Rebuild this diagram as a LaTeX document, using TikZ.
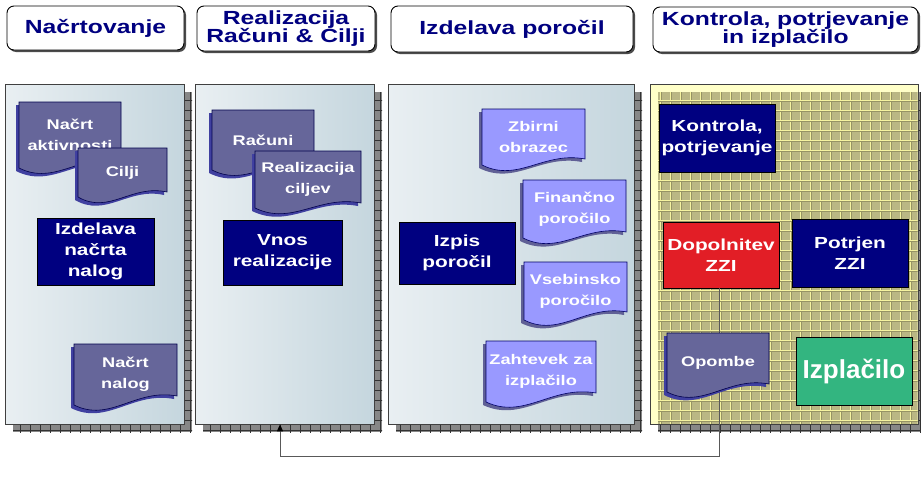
\documentclass[tikz,border=0pt]{standalone}
\usepackage{fontspec}
\setmainfont{Liberation Sans}[FakeStretch=1.3]
\newfontfamily\plainsans{Liberation Sans}
\usetikzlibrary{arrows.meta,shadows}
\definecolor{navy}{RGB}{0,0,128}
\definecolor{docpurple}{RGB}{102,102,154}
\definecolor{doclight}{RGB}{153,153,255}
\definecolor{zzired}{RGB}{226,30,38}
\definecolor{paygreen}{RGB}{51,181,128}
\definecolor{panelL}{RGB}{233,239,242}
\definecolor{panelR}{RGB}{197,214,222}
\definecolor{shadowgray}{RGB}{135,135,135}
\definecolor{pyellow}{RGB}{255,255,200}
\definecolor{olivecell}{RGB}{186,183,132}
\definecolor{olivedark}{RGB}{150,147,100}
\definecolor{gridyellow}{RGB}{245,243,160}
\definecolor{docshadeA}{RGB}{64,64,160}
\definecolor{docshadeB}{RGB}{96,96,150}

\tikzset{
 hdr/.style={draw=black, line width=0.9pt, fill=white, rounded corners=7pt, inner sep=0pt, align=center, text=navy,
   font=\bfseries\fontsize{19}{18.5}\selectfont,
   drop shadow={shadow xshift=2pt, shadow yshift=-2pt, fill=black!70, opacity=1}},
 panel/.style={draw=black!75, line width=0.7pt, inner sep=0pt, left color=panelL, right color=panelR},
 ypanel/.style={draw=black!75, line width=0.7pt, inner sep=0pt, fill=pyellow},
 box/.style={draw=black, line width=0.6pt, inner sep=0pt, align=center, text=white,
   font=\bfseries\fontsize{16}{21}\selectfont},
 doctext/.style={inner sep=0pt, align=center, text=white, font=\bfseries\fontsize{14}{21}\selectfont},
 docpur/.style={fill=docpurple, draw=black!70!blue, line width=0.6pt},
 doclig/.style={fill=doclight, draw=black!60!blue, line width=0.6pt},
 conn/.style={draw=black!65, line width=0.9pt, -{Triangle[length=7pt,width=6pt,color=black]}},
 gridline/.style={draw=black!80, line width=0.6pt},
}

% node box given by corners
\newcommand\boxat[7]{%
  \node[box,#6,minimum width={#4pt-#2pt},minimum height={#5pt-#3pt}] (#1) at ({(#2+#4)/2},{(#3+#5)/2}) {#7};}
\newcommand\hdrat[6]{%
  \node[hdr,minimum width={#4pt-#2pt},minimum height={#5pt-#3pt}] (#1) at ({(#2+#4)/2},{(#3+#5)/2}) {#6};}
\newcommand\panelat[6]{%
  \node[#6,minimum width={#4pt-#2pt},minimum height={#5pt-#3pt}] (#1) at ({(#2+#4)/2},{(#3+#5)/2}) {};}
% document path: x0 y0 x1 yl yr
\newcommand\docpath[5]{(#1,#2) -- (#3,#2) -- (#3,#5) .. controls ({#1+0.6*(#3-#1)},{#5-8}) and ({#1+0.35*(#3-#1)},{#4+18}) .. (#1,#4) -- cycle}
% name x0 y0 x1 yl yr style shadowcolor text
\newcommand\docat[9]{%
  \begin{scope}[shift={(-3,3)}]\fill[#8] \docpath{#2}{#3}{#4}{#5}{#6};\end{scope}
  \path[#7] \docpath{#2}{#3}{#4}{#5}{#6};
  \node[doctext] (#1) at ({(#2+#4)/2},{(#3+#5)/2}) {#9};}
% panel shadow: x0 y0 x1 y1 (of the panel)
\newcommand\pshadow[4]{%
  \begin{scope}
    \clip ({#1+8},{#2+8}) rectangle ({#3+8},{#4+8});
    \fill[shadowgray] ({#1+8},{#2+8}) rectangle ({#3+8},{#4+8});
    \foreach \gx in {0,10,...,930} \draw[gridline] (\gx,80) -- (\gx,440);
    \foreach \gy in {90,100,...,430} \draw[gridline] (0,\gy) -- (930,\gy);
  \end{scope}}

\begin{document}
\begin{tikzpicture}[x=1pt,y=-1pt]
\fill[white] (0,0) rectangle (921,498);
\useasboundingbox (0,0) rectangle (921,498);

% headers
\hdrat{h1}{7}{6}{184}{50}{Načrtovanje}
\hdrat{h2}{197}{6}{375}{51}{Realizacija\\Računi \& Cilji}
\hdrat{h3}{391}{6}{633}{52}{Izdelava poročil}
\hdrat{h4}{653}{7}{918}{52}{Kontrola, potrjevanje\\in izplačilo}

% panel shadows
\pshadow{5}{84}{184}{424}
\pshadow{195}{84}{374}{424}
\pshadow{388}{84}{634}{424}
\pshadow{650}{84}{918}{424}

% panels
\panelat{p1}{5}{84}{184}{424}{panel}
\panelat{p2}{195}{84}{374}{424}{panel}
\panelat{p3}{388}{84}{634}{424}{panel}
\panelat{p4}{650}{84}{918}{424}{ypanel}

% grid seen through panel 4
\begin{scope}
  \clip (658,92) rectangle (917.6,423.6);
  \fill[olivecell] (658,92) rectangle (918,424);
  \foreach \gx in {660,670,...,920} {
    \draw[olivedark,line width=0.6pt] (\gx+1,92) -- (\gx+1,424);
    \draw[gridyellow,line width=0.8pt] (\gx,92) -- (\gx,424);}
  \foreach \gy in {100,110,...,420} {
    \draw[olivedark,line width=0.6pt] (658,\gy+1) -- (918,\gy+1);
    \draw[gridyellow,line width=0.8pt] (658,\gy) -- (918,\gy);}
\end{scope}

% connector end points
\coordinate (c1) at (719,456);
\coordinate (c2) at (280,456);

% boxes
\boxat{b1}{37}{218}{154}{285}{fill=navy}{Izdelava\\načrta\\nalog}
\boxat{b2}{223}{220}{342}{285}{fill=navy}{Vnos\\realizacije}
\boxat{b3}{399}{222}{515}{284}{fill=navy}{Izpis\\poročil}
\boxat{b4}{659}{104}{775}{172}{fill=navy}{Kontrola,\\potrjevanje}
\boxat{b5}{663}{222}{779}{288}{fill=zzired}{Dopolnitev\\ZZI}
\boxat{b6}{792}{219}{908}{287}{fill=navy}{Potrjen\\ZZI}
\boxat{b7}{796}{337}{912}{405}{fill=paygreen,font=\plainsans\bfseries\fontsize{26}{28}\selectfont}{Izplačilo}

\draw[conn] (b5.south -| c1) -- (c1) -- (c2) -- (c2 |- p2.south);

% documents
\docat{d1}{19}{102}{121}{168}{161}{docpur}{docshadeA}{Načrt\\aktivnosti}
\docat{d2}{78}{148}{167}{197}{192}{docpur}{docshadeA}{Cilji}
\docat{d3}{74}{344}{177}{405}{396}{docpur}{docshadeA}{Načrt\\nalog}
\docat{d4}{212}{110}{314}{170}{163}{docpur}{docshadeA}{Računi}
\docat{d5}{255}{151}{361}{208}{203}{docpur}{docshadeA}{Realizacija\\ciljev}
\docat{d6}{482}{109}{585}{165}{159}{doclig}{docshadeB}{Zbirni\\obrazec}
\docat{d7}{523}{180}{626}{238}{232}{doclig}{docshadeB}{Finančno\\poročilo}
\docat{d8}{524}{262}{627}{320}{312}{doclig}{docshadeB}{Vsebinsko\\poročilo}
\docat{d9}{486}{341}{596}{402}{393}{doclig}{docshadeB}{Zahtevek za\\izplačilo}
\docat{d10}{667}{333}{769}{392}{384}{docpur}{docshadeA}{Opombe}
\end{tikzpicture}
\end{document}
